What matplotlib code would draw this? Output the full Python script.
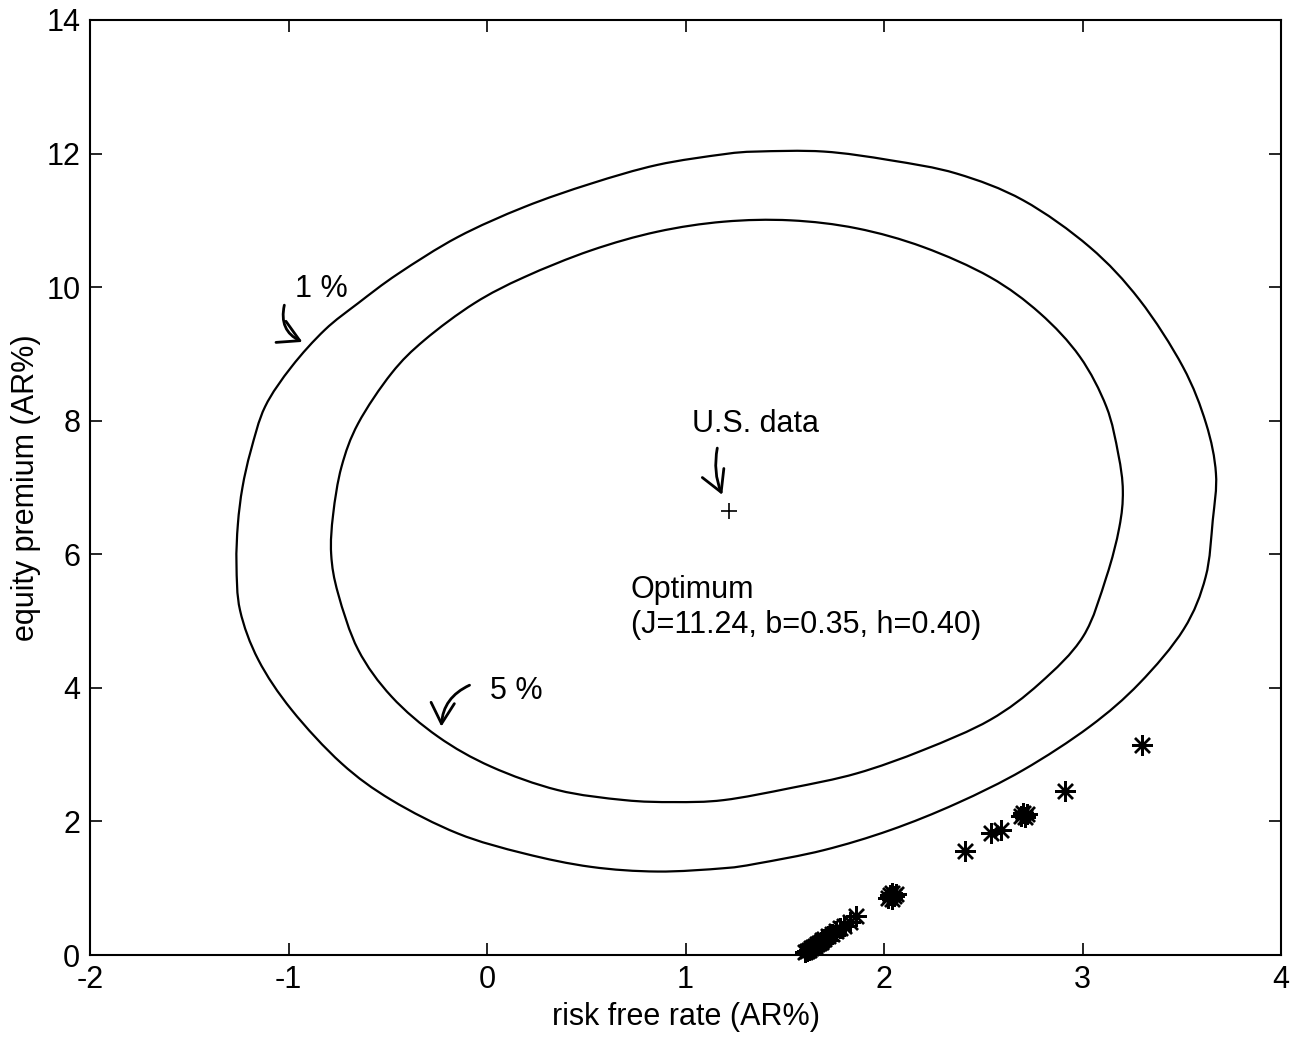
import matplotlib
matplotlib.use("Agg")
import numpy as np
from matplotlib import pyplot as plt
from matplotlib.path import Path
from matplotlib.patches import PathPatch

plt.rcParams['font.family'] = ['Liberation Sans', 'DejaVu Sans']
plt.rcParams['axes.unicode_minus'] = False

# 1 % contour (clockwise, starting at the left edge)
outer_x = [-1.262, -1.255, -1.232, -1.190, -1.118, -0.984, -0.817, -0.649, -0.448, -0.147,
           0.188, 0.524, 0.858, 1.193, 1.361, 1.696, 2.031, 2.366, 2.701, 3.036,
           3.287, 3.505, 3.622, 3.672, 3.656, 3.620, 3.510, 3.287, 3.036, 2.701,
           2.366, 2.031, 1.696, 1.361, 1.193, 0.858, 0.524, 0.188, -0.147, -0.481,
           -0.733, -0.984, -1.152, -1.244]
outer_y = [5.85, 6.45, 7.00, 7.55, 8.21, 8.81, 9.36, 9.76, 10.20, 10.75,
           11.20, 11.55, 11.83, 11.99, 12.03, 12.03, 11.90, 11.70, 11.30, 10.60,
           9.81, 8.81, 7.96, 7.21, 6.51, 5.66, 4.88, 4.07, 3.42, 2.77,
           2.27, 1.87, 1.57, 1.37, 1.30, 1.25, 1.32, 1.52, 1.82, 2.32,
           2.87, 3.67, 4.42, 5.16]

# 5 % contour
inner_x = [-0.785, -0.775, -0.733, -0.649, -0.481, -0.314, -0.063, 0.188, 0.524, 0.858,
           1.193, 1.529, 1.863, 2.198, 2.534, 2.785, 2.986, 3.120, 3.180, 3.203,
           3.185, 3.120, 3.003, 2.785, 2.534, 2.198, 1.863, 1.529, 1.193, 0.942,
           0.691, 0.356, 0.021, -0.247, -0.481, -0.649, -0.750]
inner_y = [6.00, 6.60, 7.31, 7.96, 8.71, 9.21, 9.76, 10.15, 10.55, 10.83,
           10.98, 11.00, 10.88, 10.60, 10.15, 9.61, 8.96, 8.21, 7.50, 6.95,
           6.40, 5.66, 4.77, 4.07, 3.52, 3.07, 2.72, 2.50, 2.32, 2.29,
           2.32, 2.47, 2.82, 3.27, 3.87, 4.57, 5.41]

# model outcomes (asterisks)
sim_x = [1.60, 1.61, 1.62, 1.63, 1.64, 1.65, 1.66, 1.67, 1.68, 1.69,
         1.70, 1.72, 1.74, 1.76, 1.78, 1.80, 1.83, 1.86,
         2.02, 2.03, 2.04, 2.05, 2.06, 2.04,
         2.41, 2.54, 2.59,
         2.69, 2.70, 2.71, 2.72,
         2.91, 3.30]
sim_y = [0.04, 0.06, 0.08, 0.10, 0.12, 0.14, 0.16, 0.18, 0.20, 0.22,
         0.24, 0.28, 0.32, 0.36, 0.40, 0.44, 0.50, 0.58,
         0.86, 0.90, 0.93, 0.88, 0.92, 0.84,
         1.56, 1.83, 1.87,
         2.08, 2.12, 2.07, 2.11,
         2.45, 3.15]

us_x, us_y = 1.219, 6.65

x_ticks = [-2, -1, 0, 1, 2, 3, 4]
y_ticks = [0, 2, 4, 6, 8, 10, 12, 14]


def closed_curve(xs, ys):
    # smooth closed path through the read points (Catmull-Rom as cubic Bezier)
    p = np.column_stack([xs, ys])
    n = len(p)
    verts = [p[0]]
    codes = [Path.MOVETO]
    for i in range(n):
        p0, p1, p2, p3 = p[i - 1], p[i], p[(i + 1) % n], p[(i + 2) % n]
        verts += [p1 + (p2 - p0) / 6, p2 - (p3 - p1) / 6, p2]
        codes += [Path.CURVE4] * 3
    return Path(verts, codes)


fig = plt.figure(figsize=(13.08, 10.40), dpi=100)
ax = fig.add_axes([0.0688, 0.0817, 0.9106, 0.8991])

for cx, cy in [(outer_x, outer_y), (inner_x, inner_y)]:
    ax.add_patch(PathPatch(closed_curve(cx, cy), facecolor='none',
                           edgecolor='black', lw=1.6))

ax.plot(sim_x, sim_y, linestyle='none', marker=(8, 2, 0), markersize=15,
        markeredgewidth=1.7, color='black', clip_on=False)
ax.plot([us_x], [us_y], linestyle='none', marker='+', markersize=12,
        markeredgewidth=1.2, color='black')

fs = 22
ax.text(1.034, 7.83, 'U.S. data', fontsize=fs, va='baseline')
ax.text(0.725, 5.34, 'Optimum', fontsize=fs, va='baseline')
ax.text(0.725, 4.82, '(J=11.24, b=0.35, h=0.40)', fontsize=fs, va='baseline')
ax.text(-0.967, 9.855, '1 %', fontsize=fs, va='baseline')
ax.text(0.013, 3.84, '5 %', fontsize=fs, va='baseline')

arrow = '->,head_length=0.5,head_width=0.28'
ax.annotate('', xy=(-0.93, 9.18), xytext=(-1.021, 9.73),
            arrowprops=dict(arrowstyle=arrow, lw=2.0, color='black',
                            connectionstyle='arc3,rad=0.4', mutation_scale=30,
                            shrinkA=0, shrinkB=0))
ax.annotate('', xy=(1.185, 6.89), xytext=(1.16, 7.59),
            arrowprops=dict(arrowstyle=arrow, lw=2.0, color='black',
                            connectionstyle='arc3,rad=0.15', mutation_scale=30,
                            shrinkA=0, shrinkB=0))
ax.annotate('', xy=(-0.23, 3.42), xytext=(-0.088, 4.04),
            arrowprops=dict(arrowstyle=arrow, lw=2.0, color='black',
                            connectionstyle='arc3,rad=0.3', mutation_scale=30,
                            shrinkA=0, shrinkB=0))

ax.set_xlim(-2, 4)
ax.set_ylim(0, 14)
ax.set_xticks(x_ticks)
ax.set_yticks(y_ticks)
ax.tick_params(direction='in', length=8.5, width=1.2, top=True, right=True,
               labelsize=fs, pad=7)
for s in ax.spines.values():
    s.set_linewidth(1.5)

ax.set_xlabel('risk free rate (AR%)', fontsize=fs, labelpad=5)
ax.set_ylabel('equity premium (AR%)', fontsize=fs, labelpad=4)

fig.savefig('out.png', dpi=100)
